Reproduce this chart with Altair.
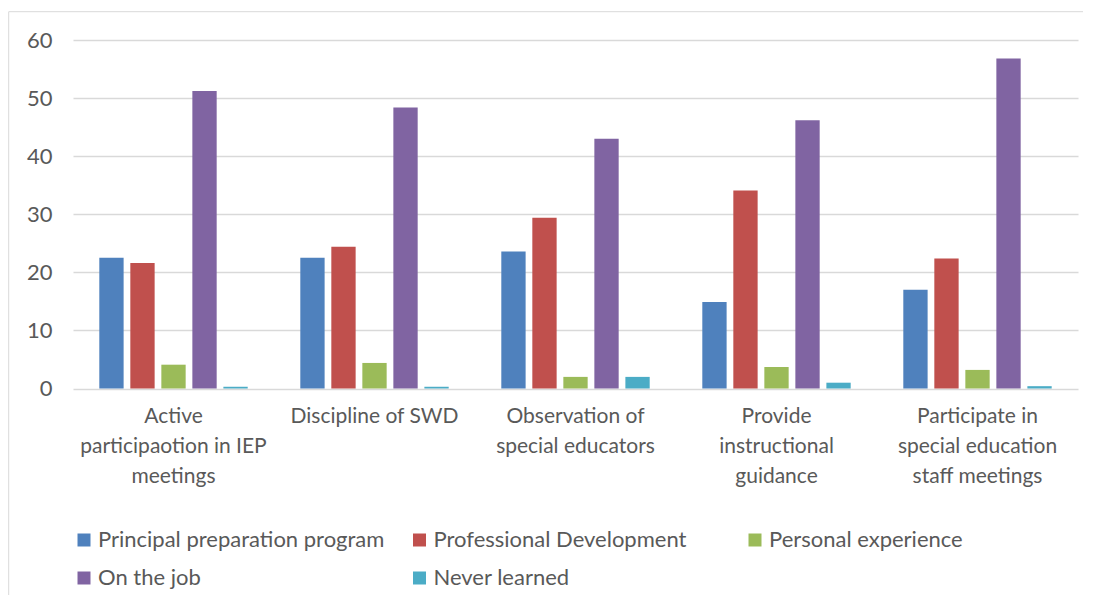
import altair as alt
import pandas as pd

# ---- data ----
categories = [
    "Active\nparticipaotion in IEP\nmeetings",
    "Discipline of SWD",
    "Observation of\nspecial educators",
    "Provide\ninstructional\nguidance",
    "Participate in\nspecial education\nstaff meetings",
]
series = [
    "Principal preparation program",
    "Professional Development",
    "Personal experience",
    "On the job",
    "Never learned",
]
colors = ["#4F81BD", "#C0504D", "#9BBB59", "#8064A2", "#4BACC6"]

principal = [22.5, 22.5, 23.6, 14.9, 17.0]
professional = [21.6, 24.4, 29.4, 34.1, 22.4]
personal = [4.1, 4.4, 2.0, 3.7, 3.2]
on_job = [51.2, 48.4, 43.0, 46.2, 56.8]
never = [0.3, 0.3, 2.0, 1.0, 0.4]

y_ticks = [0, 10, 20, 30, 40, 50, 60]

values_by_series = [principal, professional, personal, on_job, never]
rows = []
for s, vals in zip(series, values_by_series):
    for c, v in zip(categories, vals):
        rows.append({"category": c, "series": s, "value": v})
df = pd.DataFrame(rows)

FONT = "Lato"
TXT = "#595959"
GRID = "#d9d9d9"

bars = alt.Chart(df).mark_bar().encode(
    x=alt.X(
        "category:N",
        sort=categories,
        scale=alt.Scale(paddingInner=0.2, paddingOuter=0.1),
        axis=alt.Axis(
            title=None,
            labelAngle=0,
            domain=False,
            ticks=False,
            grid=False,
            labelPadding=17,
            labelLineHeight=30,
            labelLimit=300,
            labelExpr="split(datum.label, '\\n')",
        ),
    ),
    xOffset=alt.XOffset(
        "series:N",
        sort=series,
        scale=alt.Scale(paddingInner=0.216, paddingOuter=0.2),
    ),
    y=alt.Y(
        "value:Q",
        scale=alt.Scale(domain=[0, 60], nice=False),
        axis=alt.Axis(
            title=None,
            values=y_ticks,
            domain=False,
            ticks=False,
            grid=True,
            gridColor=GRID,
            gridWidth=1.5,
            labelPadding=21,
            labelFontSize=22,
        ),
    ),
    color=alt.Color(
        "series:N",
        sort=series,
        scale=alt.Scale(domain=series, range=colors),
        legend=alt.Legend(
            title=None,
            orient="none",
            legendX=0,
            legendY=489,
            direction="horizontal",
            columns=3,
            gridAlign="all",
            symbolType="square",
            symbolSize=169,
            symbolStrokeWidth=0,
            labelFont=FONT,
            labelFontSize=22,
            labelColor=TXT,
            labelOffset=3,
            rowPadding=16,
            columnPadding=23.5,
            labelLimit=400,
        ),
    ),
)

frame_df = pd.DataFrame({"k": [0]})
frame_top = alt.Chart(frame_df).mark_rule(color=GRID, strokeWidth=1).encode(
    x=alt.value(-64.3), x2=alt.value(1010), y=alt.value(-28.3)
)
frame_left = alt.Chart(frame_df).mark_rule(color=GRID, strokeWidth=1).encode(
    x=alt.value(-64.3), y=alt.value(-28.3), y2=alt.value(555)
)

chart = (
    alt.layer(bars, frame_top, frame_left)
    .properties(
        width=1005,
        height=348.5,
        padding={"left": 0, "top": 3, "right": 0, "bottom": 0},
    )
    .configure_view(stroke=None)
    .configure_axis(labelFont=FONT, labelFontSize=21, labelColor=TXT)
)

chart.save("out.html", embed_options={"renderer": "svg", "actions": False})
